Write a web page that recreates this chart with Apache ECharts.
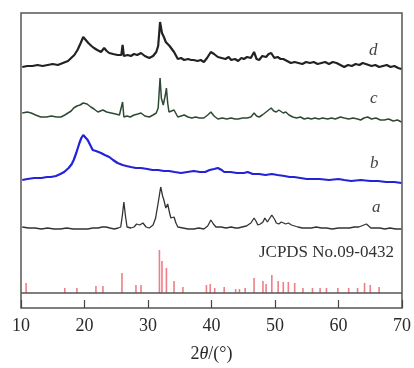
<!DOCTYPE html>
<html>
<head>
<meta charset="utf-8">
<script src="https://cdn.jsdelivr.net/npm/echarts@6/dist/echarts.min.js"></script>
<style>
  html, body { margin: 0; padding: 0; background: #fff; }
  #chart { width: 414px; height: 368px; }
</style>
</head>
<body>
<div id="chart"></div>
<script>
// x ticks
const xTicks = [10, 20, 30, 40, 50, 60, 70]

// curve d, [2θ, offset intensity]
const curveD = [[10.2, 241], [11, 242], [11.8, 242], [12.6, 243], [13.4, 242], [14.2, 243], [15, 244], [15.8, 243], [16.6, 245], [17.4, 247], [17.9, 250], [18.4, 253], [18.9, 258], [19.4, 265], [19.8, 271], [20.2, 268], [20.6, 265], [21.1, 262], [21.5, 260], [22, 258], [22.6, 256], [23.1, 260], [23.5, 257], [23.9, 255], [24.5, 254], [25.2, 253], [25.8, 253], [26, 263], [26.2, 252], [26.8, 253], [27.3, 252], [27.8, 254], [28.3, 253], [28.9, 255], [29.5, 252], [30.2, 250], [30.8, 252], [31.3, 256], [31.6, 262], [31.9, 286], [32.2, 275], [32.5, 271], [32.8, 266], [33.1, 268], [33.4, 262], [33.6, 263], [34.1, 256], [34.7, 249], [35.2, 250], [35.7, 248], [36.3, 249], [36.8, 248], [37.2, 248], [37.8, 247], [38.3, 248], [38.8, 246], [39.3, 250], [39.9, 256], [40.4, 254], [41, 251], [41.6, 250], [42.2, 249], [42.7, 251], [43.1, 248], [43.7, 249], [44.2, 247], [44.7, 250], [45.1, 249], [45.6, 251], [46.2, 250], [46.7, 256], [47.1, 249], [47.5, 248], [48, 252], [48.6, 251], [49, 254], [49.4, 255], [49.9, 250], [50.4, 251], [50.9, 249], [51.3, 249], [51.9, 247], [52.5, 245], [53.1, 246], [53.7, 245], [54.3, 244], [54.9, 246], [55.5, 245], [56.1, 246], [56.7, 244], [57.3, 245], [57.9, 246], [58.5, 244], [59.1, 246], [59.7, 245], [60.3, 243], [60.9, 241], [61.5, 243], [62.1, 242], [62.7, 244], [63.3, 243], [63.8, 245], [64.3, 244], [64.6, 245], [65.2, 242], [65.8, 243], [66.4, 241], [67, 242], [67.6, 243], [68.2, 241], [68.8, 242], [69.4, 240], [69.9, 239]]

// curve c
const curveC = [[10.2, 195], [11, 196], [11.6, 195], [12.3, 193], [13.1, 191], [14, 191], [14.8, 192], [15.6, 191], [16.3, 191], [16.9, 193], [17.4, 195], [17.9, 197], [18.3, 200], [18.8, 202], [19.3, 203], [19.8, 205], [20.4, 204], [21, 201], [21.5, 199], [22.1, 196], [22.5, 197], [22.9, 198], [23.5, 196], [24.2, 195], [24.9, 194], [25.5, 193], [25.8, 193], [26, 206], [26.2, 191], [26.7, 192], [27.2, 191], [27.8, 193], [28.4, 194], [28.9, 195], [29.5, 192], [30.2, 191], [30.8, 193], [31.3, 195], [31.6, 200], [31.9, 230], [32.1, 210], [32.4, 203], [32.7, 212], [32.9, 220], [33.1, 205], [33.3, 196], [33.7, 197], [34.1, 198], [34.7, 191], [35.2, 192], [35.7, 193], [36.3, 191], [36.9, 190], [37.5, 191], [38.1, 190], [38.8, 190], [39.4, 193], [39.9, 196], [40.4, 192], [41, 189], [41.7, 190], [42.4, 189], [43.1, 190], [43.7, 189], [44.2, 189], [44.9, 190], [45.6, 190], [46.2, 191], [46.7, 195], [47.1, 192], [47.5, 191], [48, 193], [48.6, 196], [49, 198], [49.4, 200], [49.8, 197], [50.2, 196], [50.6, 198], [50.9, 198], [51.3, 195], [51.7, 196], [52.2, 193], [52.8, 191], [53.4, 190], [54, 191], [54.6, 189], [55.2, 190], [55.7, 189], [56.3, 190], [56.9, 189], [57.5, 190], [58.3, 189], [58.9, 190], [59.5, 189], [60.3, 191], [60.9, 190], [61.6, 189], [62.3, 190], [63, 189], [63.5, 188], [64, 190], [64.6, 191], [65.2, 189], [65.9, 190], [66.6, 188], [67.2, 188], [67.9, 189], [68.6, 187], [69.3, 188], [69.9, 186]]

// curve b
const curveB = [[10.2, 128], [11, 129], [12.1, 130], [13.2, 130], [14.1, 131], [14.7, 131], [15.5, 132], [16.2, 134], [16.8, 136], [17.5, 140], [18, 144], [18.3, 148], [18.7, 155], [19.2, 165], [19.5, 170], [19.8, 173], [20.1, 172], [20.5, 168], [20.9, 163], [21.3, 158], [21.8, 157], [22.2, 156], [22.6, 155], [23.2, 153], [23.9, 151], [24.5, 148], [25.2, 145], [26, 143], [26.6, 142], [27.3, 141], [28.1, 140], [28.9, 140], [29.9, 139], [30.7, 138], [31.6, 138], [32.5, 137], [33.3, 137], [34.2, 136], [35.2, 135], [36.2, 136], [37.2, 137], [38.2, 136], [39, 136], [39.7, 138], [40.4, 139], [41, 140], [41.6, 138], [42, 136], [43, 136], [44, 135], [45.1, 135], [45.7, 136], [46.5, 134], [47.5, 134], [48.5, 133], [49.5, 134], [50.4, 133], [51.5, 132], [52.3, 131], [53, 131], [54, 130], [55, 129], [55.7, 129], [57, 129], [58.5, 128], [60, 129], [60.9, 128], [62, 127], [63.5, 128], [65, 127], [66.2, 127], [67.5, 126], [68.8, 126], [69.9, 125]]

// curve a
const curveA = [[10.2, 81], [11.2, 80], [12.2, 80], [13.2, 79], [14.2, 80], [15.2, 79], [16.2, 79], [17.2, 80], [18.2, 79], [19.2, 79], [20.5, 79], [21.3, 80], [22.1, 80], [22.8, 81], [23.4, 81], [24, 80], [24.7, 79], [25.3, 80], [25.7, 81], [25.95, 92], [26.2, 106], [26.45, 92], [26.7, 81], [27.3, 80], [27.8, 81], [28.2, 84], [28.4, 85], [28.7, 83], [29.2, 85], [29.5, 83], [29.7, 81], [30.2, 80], [30.8, 83], [31.2, 90], [31.6, 105], [32, 121], [32.3, 112], [32.5, 108], [32.8, 100], [33.1, 104], [33.4, 95], [33.6, 90], [33.9, 92], [34.1, 91], [34.4, 85], [34.7, 81], [35.5, 80], [36.3, 79], [37.2, 79], [38, 80], [38.8, 79], [39.4, 82], [39.9, 88], [40.3, 84], [40.7, 81], [41.5, 81], [42.3, 80], [43.1, 81], [43.8, 80], [44.2, 80], [44.8, 81], [45.5, 82], [46.2, 85], [46.7, 90], [47, 87], [47.3, 83], [47.7, 84], [48.1, 86], [48.4, 90], [48.8, 86], [49.1, 86], [49.5, 93], [49.7, 95], [50, 88], [50.2, 85], [50.6, 84], [51, 86], [51.3, 86], [51.7, 84], [52.1, 85], [52.6, 83], [53.1, 82], [53.6, 81], [54.3, 80], [55, 80], [55.7, 80], [56.5, 81], [57.3, 80], [58.1, 80], [59, 79], [60, 80], [60.9, 80], [61.7, 80], [62.5, 81], [63.2, 81], [64, 83], [64.4, 84], [65.1, 80], [65.8, 80], [66.5, 80], [67.3, 79], [68.1, 80], [69, 79], [69.9, 79]]

// JCPDS 09-0432 reference lines
const refBase = 15
const refX = [10.8, 16.9, 18.8, 21.8, 22.9, 25.9, 28.1, 28.9, 31.8, 32.2, 32.9, 34.1, 35.5, 39.2, 39.8, 40.5, 42.0, 43.8, 44.4, 45.3, 46.7, 48.1, 48.6, 49.5, 50.5, 51.3, 52.1, 53.1, 54.4, 55.9, 57.1, 58.1, 59.9, 61.6, 63.0, 64.1, 65.0, 66.4]
const refH = [10, 5, 5, 7, 7, 20, 8, 8, 43, 32, 25, 12, 6, 8, 9, 5, 6, 4, 4, 5, 15, 12, 9, 18, 12, 11, 11, 10, 5, 5, 5, 5, 5, 5, 5, 10, 8, 6]

let myChart = echarts.init(document.getElementById('chart'))
const serif = 'Liberation Serif'

myChart.setOption({
  animation: false,
  grid: {
    left: 21, right: 12, top: 13, bottom: 60,
    show: true, borderColor: '#555', borderWidth: 1.5, backgroundColor: 'transparent'
  },
  xAxis: {
    type: 'value', min: 10, max: 70, interval: 10,
    axisLine: { show: false },
    axisTick: { show: true, inside: true, length: 8, lineStyle: { color: '#444', width: 1.2 } },
    axisLabel: {
      color: '#2a2a2a', fontFamily: serif, fontSize: 18, margin: 9,
      formatter: v => xTicks.includes(v) ? String(v) : ''
    },
    splitLine: { show: false },
    name: '{n|2}{i|θ}{n|/(°)}',
    nameLocation: 'middle', nameGap: 37,
    nameTextStyle: {
      rich: {
        n: { fontFamily: serif, fontSize: 18, color: '#2a2a2a' },
        i: { fontFamily: serif, fontSize: 18, color: '#2a2a2a', fontStyle: 'italic' }
      }
    }
  },
  yAxis: {
    type: 'value', min: 0, max: 295,
    show: false
  },
  series: [
    {
      type: 'custom',
      name: 'JCPDS',
      data: refX.map((x, i) => [x, refH[i]]),
      renderItem: (params, api) => {
        const p0 = api.coord([api.value(0), refBase])
        const p1 = api.coord([api.value(0), refBase + api.value(1)])
        return {
          type: 'line',
          shape: { x1: p0[0], y1: p0[1], x2: p1[0], y2: p1[1] },
          style: { stroke: '#ef7f86', lineWidth: 1.6 }
        }
      },
      markLine: {
        silent: true, symbol: 'none', label: { show: false },
        lineStyle: { color: '#555', width: 1.5, type: 'solid' },
        data: [{ yAxis: refBase }]
      }
    },
    {
      type: 'line', name: 'a', data: curveA, showSymbol: false,
      lineStyle: { color: '#333', width: 1.3 }
    },
    {
      type: 'line', name: 'b', data: curveB, showSymbol: false,
      lineStyle: { color: '#2222d8', width: 2.2 }
    },
    {
      type: 'line', name: 'c', data: curveC, showSymbol: false,
      lineStyle: { color: '#2f4a34', width: 1.5 }
    },
    {
      type: 'line', name: 'd', data: curveD, showSymbol: false,
      lineStyle: { color: '#222', width: 2.2 }
    }
  ],
  graphic: [
    { type: 'text', left: 369, top: 42, style: { text: 'd', font: 'italic 17px "Liberation Serif"', fill: '#444' } },
    { type: 'text', left: 370, top: 90, style: { text: 'c', font: 'italic 17px "Liberation Serif"', fill: '#444' } },
    { type: 'text', left: 370, top: 155, style: { text: 'b', font: 'italic 17px "Liberation Serif"', fill: '#444' } },
    { type: 'text', left: 372, top: 199, style: { text: 'a', font: 'italic 17px "Liberation Serif"', fill: '#444' } },
    { type: 'text', right: 20, top: 244, style: { text: 'JCPDS No.09-0432', font: '17px "Liberation Serif"', fill: '#333' } }
  ]
})
</script>
</body>
</html>
